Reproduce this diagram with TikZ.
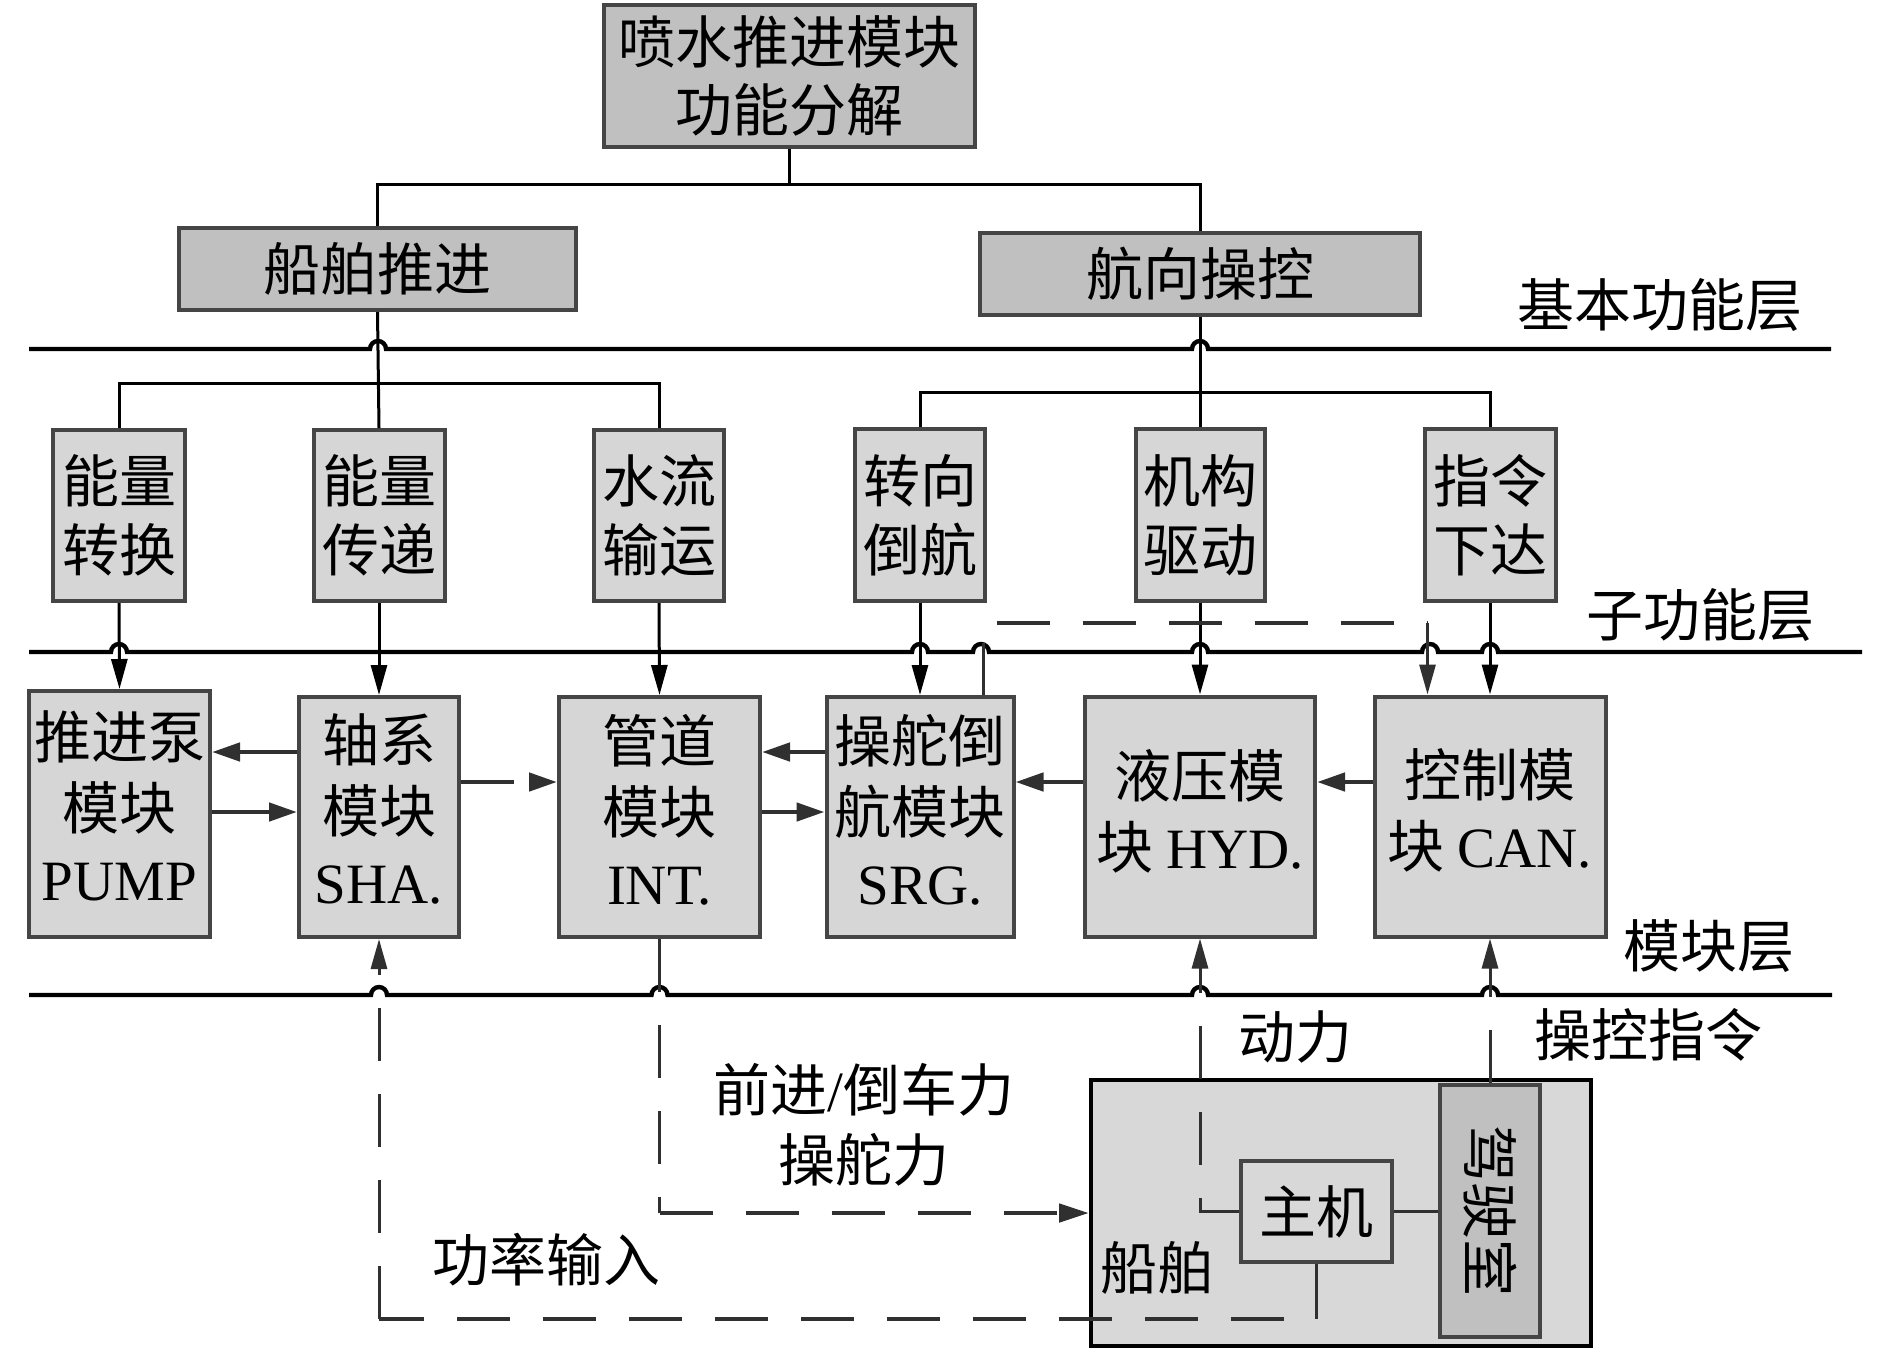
\documentclass[tikz,border=0pt]{standalone}
\usepackage{fontspec}
\setmainfont{Liberation Serif}
\newfontfamily\cjk{Noto Sans CJK SC}
\newfontfamily\lat{Liberation Serif}
\usetikzlibrary{arrows.meta,calc}
\definecolor{topfill}{HTML}{C0C0C0}
\definecolor{subfill}{HTML}{D6D6D6}
\definecolor{shipfill}{HTML}{D8D8D8}
\definecolor{bordc}{HTML}{454545}
\definecolor{arrc}{HTML}{303030}
\tikzset{
  basebox/.style={draw=bordc, line width=2pt, inner sep=0pt, align=center,
    font=\cjk\fontsize{28.5}{34.5}\selectfont},
  topbox/.style={basebox, fill=topfill, font=\cjk\fontsize{28.5}{34}\selectfont},
  subbox/.style={basebox, fill=subfill},
  modbox/.style={basebox, fill=subfill, font=\cjk\fontsize{28.5}{35.5}\selectfont,
    execute at end node={\rule[-8pt]{0pt}{8pt}}},
  lbl/.style={inner sep=0pt, font=\cjk\fontsize{28.5}{34.5}\selectfont},
  layerline/.style={line width=2.2pt, black},
  treeline/.style={line width=1.5pt, black},
  varr/.style={line width=1.5pt, black, -{Triangle[length=15pt,width=8pt]}},
  harr/.style={line width=2.3pt, arrc, -{Triangle[length=14pt,width=9pt]}},
  thindash/.style={line width=1.5pt, arrc, dash pattern=on 26.5pt off 16.5pt},
  thickdash/.style={line width=2.4pt, arrc, dash pattern=on 26.5pt off 16.5pt},
  uparr/.style={-{Triangle[length=15pt,width=8pt]}},
}
\begin{document}
\begin{tikzpicture}[x=0.5pt,y=-0.5pt]
\useasboundingbox (0,0) rectangle (1890,1351);

% ---------- nodes ----------
\node[topbox, minimum width=185.5pt, minimum height=71pt] (top) at (789.5,76) {喷水推进模块\\功能分解};
\node[topbox, minimum width=198.5pt, minimum height=41pt] (p1) at (377.5,269) {船舶推进};
\node[topbox, minimum width=220pt, minimum height=41pt] (p2) at (1200,274) {航向操控};

\node[subbox, minimum width=66pt, minimum height=85.5pt] (s1) at (119,515.5) {能量\\转换};
\node[subbox, minimum width=65.5pt, minimum height=85.5pt] (s2) at (379,515.5) {能量\\传递};
\node[subbox, minimum width=65pt, minimum height=85.5pt] (s3) at (659,515.5) {水流\\输运};
\node[subbox, minimum width=65pt, minimum height=86pt] (s4) at (920,515) {转向\\倒航};
\node[subbox, minimum width=64.5pt, minimum height=86pt] (s5) at (1200,515) {机构\\驱动};
\node[subbox, minimum width=65.5pt, minimum height=86pt] (s6) at (1490,515) {指令\\下达};

\node[modbox, minimum width=90.5pt, minimum height=123pt] (m1) at (119.5,814) {推进泵\\模块\\{\lat PUMP}};
\node[modbox, minimum width=80pt, minimum height=120pt] (m2) at (379,817) {轴系\\模块\\{\lat SHA.}};
\node[modbox, minimum width=100.5pt, minimum height=120pt] (m3) at (659.5,817) {管道\\模块\\{\lat INT.}};
\node[modbox, minimum width=93.5pt, minimum height=120pt] (m4) at (920,817) {操舵倒\\航模块\\{\lat SRG.}};
\node[modbox, minimum width=115pt, minimum height=120pt] (m5) at (1200,816.5) {液压模\\块 {\lat HYD.}};
\node[modbox, minimum width=115.5pt, minimum height=120pt] (m6) at (1490,816.5) {控制模\\块 {\lat CAN.}};

\node[draw=black, line width=2pt, fill=shipfill, minimum width=250pt, minimum height=133pt, inner sep=0pt] (ship) at (1341,1213) {};
\node[draw=bordc, line width=2pt, fill=topfill, minimum width=50pt, minimum height=126pt, inner sep=0pt] (jsz) at (1490,1211) {};
\node[lbl, rotate=-90] (jsztext) at (1490,1211) {驾驶室};
\node[basebox, fill=shipfill, minimum width=75.5pt, minimum height=50.5pt] (zj) at (1316.5,1211.5) {主机};
\node[lbl] (chuanbo) at (1157,1268) {船舶};

% layer labels
\node[lbl] (L1) at (1660,305) {基本功能层};
\node[lbl] (L2) at (1700,615) {子功能层};
\node[lbl] (L3) at (1709,946) {模块层};
% flow labels
\node[lbl] (t1) at (1295,1037) {动力};
\node[lbl] (t2) at (1648,1035) {操控指令};
\node[lbl] (t3) at (864,1090) {前进{\lat /}倒车力};
\node[lbl] (t4) at (864,1160) {操舵力};
\node[lbl] (t5) at (546,1260) {功率输入};

% ---------- layer lines with hops ----------
\draw[layerline] (29,349) -- (370,349) arc[start angle=180,end angle=0,radius=4pt]
  -- (1192,349) arc[start angle=180,end angle=0,radius=4pt] -- (1831,349);
\draw[layerline] (29,652) -- (111,652) arc[start angle=180,end angle=0,radius=4pt]
  -- (912,652) arc[start angle=180,end angle=0,radius=4pt]
  -- (973,652) arc[start angle=180,end angle=0,radius=4pt]
  -- (1192,652) arc[start angle=180,end angle=0,radius=4pt]
  -- (1422,652) arc[start angle=180,end angle=0,radius=4pt]
  -- (1482,652) arc[start angle=180,end angle=0,radius=4pt] -- (1862,652);
\draw[layerline] (29,995) -- (371,995) arc[start angle=180,end angle=0,radius=4pt]
  -- (651.5,995) arc[start angle=180,end angle=0,radius=4pt]
  -- (1192,995) arc[start angle=180,end angle=0,radius=4pt]
  -- (1482,995) arc[start angle=180,end angle=0,radius=4pt] -- (1832,995);

% ---------- tree ----------
\coordinate (j0) at (789.5,184);
\draw[treeline] (top.south) -- (j0);
\draw[treeline] (p1.north) |- (j0) -| (p2.north);
\coordinate (j1) at (378,383);
\coordinate (j2) at (1200,392);
\draw[treeline] (p1.south) -- (s2.north);
\draw[treeline] (s1.north) |- (j1) -| (s3.north);
\draw[treeline] (p2.south) -- (s5.north);
\draw[treeline] (s4.north) |- (j2) -| (s6.north);

% ---------- sub-function to module arrows ----------
\draw[varr] (s1.south) -- (m1.north);
\draw[varr] (s2.south) -- (m2.north);
\draw[varr] (s3.south) -- (m3.north);
\draw[varr] (s4.south) -- (m4.north);
\draw[varr] (s5.south) -- (m5.north);
\draw[varr] (s6.south) -- (m6.north);

% SRG -> CAN dashed link
\coordinate (d1) at ($(m4.north east)+(-32,0)$);
\coordinate (d2) at ($(d1)+(0,-72)$);
\coordinate (d3) at ($(m6.north west)+(55,0)$);
\draw[treeline, arrc] (d1) -- ++(0,-52);
\draw[thickdash, line width=2pt, dash phase=36.5pt] (d2) -- (d2 -| d3);
\draw[varr, arrc] (d2 -| d3) -- (d3);

% ---------- module arrows ----------
\coordinate (a1) at ($(m2.west)+(0,-65)$);
\draw[harr] (a1) -- (a1 -| m1.east);
\coordinate (a2) at ($(m1.east)+(0,-2)$);
\draw[harr] (a2) -- (a2 -| m2.west);
\coordinate (a3) at ($(m2.east)+(0,-35)$);
\draw[harr, dash pattern=on 26.5pt off 16.5pt] (a3) -- (a3 -| m3.west);
\coordinate (a4) at ($(m4.west)+(0,-65)$);
\draw[harr] (a4) -- (a4 -| m3.east);
\coordinate (a5) at ($(m3.east)+(0,-5)$);
\draw[harr] (a5) -- (a5 -| m4.west);
\coordinate (a6) at ($(m5.west)+(0,-34.5)$);
\draw[harr] (a6) -- (a6 -| m4.east);
\coordinate (a7) at ($(m6.west)+(0,-34.5)$);
\draw[harr] (a7) -- (a7 -| m5.east);

% ---------- bottom links ----------
\draw[treeline, arrc] (zj.east) -- (zj.east -| jsz.west);
\draw[thindash, uparr] (zj.west) -| (m5.south);
\draw[thindash, uparr] (jsz.north) -- (m6.south);
\coordinate (c1) at ($(zj.south)+(0,55)$);
\draw[treeline, arrc] (zj.south) -- (c1);
\draw[thickdash, dash phase=26.5pt] (c1) -- (c1 -| m2.south);
\draw[thindash, uparr] (c1 -| m2.south) -- (m2.south);
\draw[thindash] (m3.south) -- (m3.south |- ship.west);
\draw[thickdash, -{Triangle[length=15pt,width=9pt]}] (m3.south |- ship.west) -- (ship.west);
\end{tikzpicture}
\end{document}
